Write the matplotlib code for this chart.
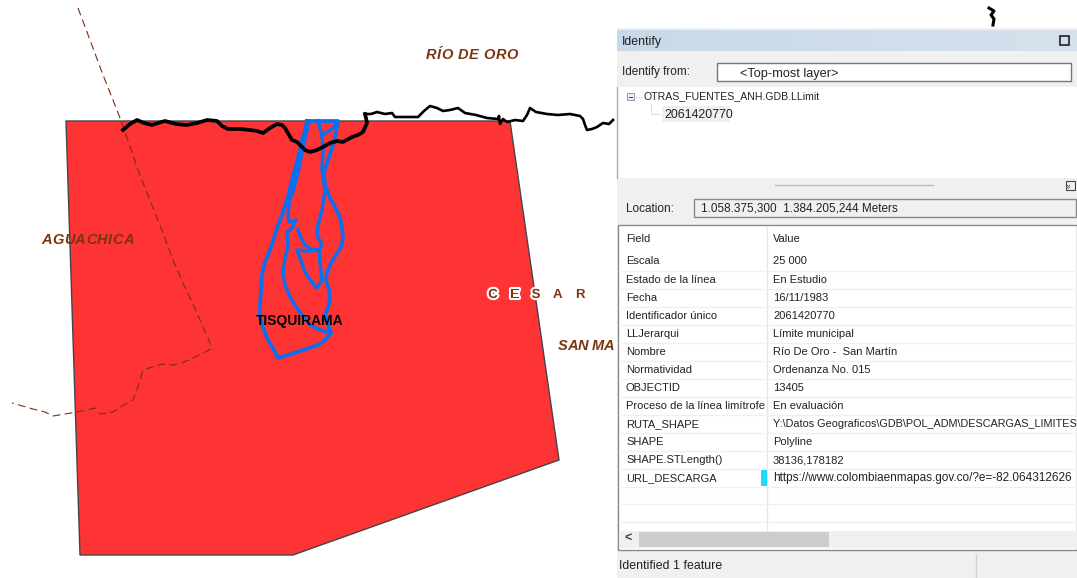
import matplotlib
matplotlib.use("Agg")
import matplotlib.pyplot as plt
import matplotlib.patheffects as pe
from matplotlib.patches import Polygon, Rectangle

# map shapes in pixels
zona_x = [66, 510, 559, 293, 80]
zona_y = [121, 121, 460, 555, 555]

limite_oeste_x = [123, 130, 137, 144, 152, 158, 165, 176, 187, 197, 207, 217, 222, 228, 240, 250, 257, 263, 270, 277, 282, 285, 289, 292, 297, 300, 305, 310, 317, 323, 330, 337, 343, 352, 358, 363, 367, 366, 365]
limite_oeste_y = [130, 124, 120, 123, 125, 123, 121, 124, 125, 123, 120, 121, 126, 129, 129, 130, 131, 133, 128, 124, 125, 128, 135, 140, 142, 145, 150, 152, 150, 147, 143, 141, 142, 137, 135, 132, 123, 118, 114]
limite_este_x = [365, 371, 377, 385, 392, 395, 405, 418, 424, 430, 437, 443, 450, 458, 465, 476, 487, 498, 499, 500, 503, 507, 515, 523, 527, 530, 536, 547, 558, 570, 580, 583, 585, 587, 592, 597, 603, 609, 613]
limite_este_y = [114, 114, 112, 114, 113, 117, 117, 117, 111, 106, 108, 111, 110, 108, 113, 115, 118, 119, 116, 124, 119, 122, 120, 121, 115, 108, 112, 114, 115, 114, 116, 119, 125, 130, 129, 127, 123, 124, 120]

lindero_x = [78, 93, 103, 113, 122, 138, 153, 163, 173, 183, 197, 210, 211, 197, 182, 173, 163, 152, 143, 138, 133, 122, 113, 100, 95, 77, 65, 53, 45, 33, 12]
lindero_y = [8, 48, 75, 100, 123, 170, 208, 233, 260, 283, 313, 343, 349, 356, 363, 365, 364, 367, 370, 387, 400, 406, 412, 414, 408, 412, 414, 416, 412, 409, 403]

azul_contorno_x = [307, 338, 336, 332, 328, 324, 325, 330, 335, 340, 342, 343, 341, 336, 331, 327, 326, 329, 330, 328, 325, 328, 331, 325, 318, 300, 285, 278, 274, 268, 263, 260, 260, 261, 262, 265, 270, 274, 277, 282, 287, 292, 296, 300, 304, 307]
azul_contorno_y = [121, 121, 133, 148, 160, 172, 185, 198, 207, 217, 228, 238, 247, 255, 263, 272, 280, 290, 298, 308, 315, 325, 333, 340, 345, 351, 356, 358, 350, 340, 328, 317, 305, 290, 275, 262, 250, 238, 228, 215, 200, 180, 165, 150, 135, 121]
azul_medio_x = [318, 322, 323, 322, 325, 322, 318, 317, 322, 319, 320, 322, 317, 311, 305, 301, 297, 308, 319]
azul_medio_y = [121, 135, 150, 170, 190, 210, 225, 235, 245, 250, 263, 280, 288, 281, 272, 261, 250, 251, 250]
azul_cruce_x = [322, 327, 333, 338]
azul_cruce_y = [135, 132, 128, 122]
azul_izq_x = [303, 296, 290, 288, 289, 296, 292, 287, 288, 285, 283, 285, 290, 296, 302, 310, 320, 331]
azul_izq_y = [135, 170, 195, 215, 222, 220, 228, 232, 247, 258, 273, 285, 297, 307, 315, 325, 330, 333]
azul_doble_x = [309, 303, 298, 292]
azul_doble_y = [121, 148, 172, 195]
azul_interno_x = [298, 301, 305, 311, 318]
azul_interno_y = [230, 238, 245, 249, 250]

# texts of the Identify window
campos = ["Escala", "Estado de la línea", "Fecha", "Identificador único", "LLJerarqui", "Nombre", "Normatividad", "OBJECTID",
          "Proceso de la línea limítrofe", "RUTA_SHAPE", "SHAPE", "SHAPE.STLength()", "URL_DESCARGA"]
valores = ["25 000", "En Estudio", "16/11/1983", "2061420770", "Límite municipal", "Río De Oro -  San Martín", "Ordenanza No. 015", "13405",
           "En evaluación", "Y:\\Datos Geograficos\\GDB\\POL_ADM\\DESCARGAS_LIMITES", "Polyline", "38136,178182",
           "https://www.colombiaenmapas.gov.co/?e=-82.064312626"]
cesar_letras = ["C", "E", "S", "A", "R"]
cesar_x = [493, 515, 536, 557, 580]

plt.rcParams['font.family'] = ['Liberation Sans', 'DejaVu Sans']

fig = plt.figure(figsize=(10.77, 5.78), dpi=100)
ax = fig.add_axes([0, 0, 1, 1])
ax.set_xlim(0, 1077)
ax.set_ylim(578, 0)
ax.axis("off")
tx = "#222222"
fs = 8.05
azul = "#0a70f0"
marron = "#7b3410"


def caja(x, y, w, h, color, borde="none", z=5, lw=1):
    ax.add_patch(Rectangle((x, y), w, h, facecolor=color, edgecolor=borde, zorder=z, lw=lw))


def etiqueta(x, y, txt, ancho, **kw):
    # letter by letter so the label spreads over the same width as the picture
    r = fig.canvas.get_renderer()
    w = []
    for c in txt:
        t = ax.text(0, 0, c if c != " " else "i", **kw)
        w.append(t.get_window_extent(r).width)
        t.remove()
    hueco = (ancho - sum(w)) / (len(txt) - 1)
    for c, wi in zip(txt, w):
        if c != " ":
            ax.text(x, y, c, ha="left", va="center", zorder=4, **kw)
        x += wi + hueco


# mapa
ax.add_patch(Polygon(list(zip(zona_x, zona_y)), closed=True, facecolor="#fe3333", edgecolor="#44444a", lw=1, zorder=1))
ax.plot(lindero_x, lindero_y, color="#7a2e0e", lw=0.8, ls=(0, (7, 4)), zorder=2)
ax.plot(azul_contorno_x, azul_contorno_y, color=azul, lw=2.7, zorder=3, solid_joinstyle="round")
ax.plot(azul_medio_x, azul_medio_y, color=azul, lw=2.5, zorder=3, solid_joinstyle="round")
ax.plot(azul_cruce_x, azul_cruce_y, color=azul, lw=2.5, zorder=3)
ax.plot(azul_izq_x, azul_izq_y, color=azul, lw=2.5, zorder=3, solid_joinstyle="round")
ax.plot(azul_doble_x, azul_doble_y, color=azul, lw=2.5, zorder=3)
ax.plot(azul_interno_x, azul_interno_y, color=azul, lw=2.5, zorder=3, solid_joinstyle="round")
ax.plot(limite_oeste_x, limite_oeste_y, color="black", lw=2.7, zorder=4, solid_joinstyle="round")
ax.plot(limite_este_x, limite_este_y, color="black", lw=1.9, zorder=4, solid_joinstyle="round")
ax.plot([989, 994, 991, 994, 993], [8, 11, 15, 19, 25], color="black", lw=2.2, zorder=4)

kw_mapa = dict(color=marron, fontsize=10.5, fontweight="bold", fontstyle="italic")
etiqueta(426, 55, "RÍO DE ORO", 92, **kw_mapa)
etiqueta(41, 240, "AGUACHICA", 93, **kw_mapa)
etiqueta(558, 346, "SAN MA", 56, **kw_mapa)
for letra, x in zip(cesar_letras, cesar_x):
    ax.text(x, 295, letra, color=marron, fontsize=9.5, fontweight="bold", ha="center", va="center", zorder=4,
            path_effects=[pe.withStroke(linewidth=3, foreground="white")] if x < 540 else None)
ax.text(299.5, 321, "TISQUIRAMA", color="black", fontsize=10, fontweight="bold", ha="center", va="center", zorder=4)

# ventana Identify
caja(617, 28, 460, 550, "#f0f0f0")
for i in range(40):
    t = i / 39
    c = (0.78 + 0.06 * t, 0.85 + 0.03 * t, 0.91 + 0.02 * t)
    caja(617 + i * 11.5, 30, 11.6, 21, c, z=6)
caja(1060, 36, 9, 9, "none", borde="#222222", z=7, lw=1.2)
ax.text(622, 41.5, "Identify", fontsize=8.9, color=tx, va="center", zorder=8)
ax.text(622, 71.5, "Identify from:", fontsize=8.5, color=tx, va="center", zorder=8)
caja(717, 63, 354, 18, "white", borde="#777777", z=6)
ax.text(740, 73.5, "<Top-most layer>", fontsize=9.2, color=tx, va="center", zorder=8)

caja(617, 87, 460, 91, "white", z=6)
ax.plot([617, 617], [87, 178], color="#aaaaaa", lw=1, zorder=7)
caja(627, 93, 7, 7, "#e8eef4", borde="#8899aa", z=7, lw=0.7)
ax.plot([629, 632], [96.5, 96.5], color="#334455", lw=0.7, zorder=8)
ax.plot([634, 642], [96.5, 96.5], color="#999999", lw=0.6, ls=":", zorder=7)
ax.plot([651, 651, 660], [104, 114, 114], color="#999999", lw=0.6, ls=":", zorder=7)
ax.text(643, 96.5, "OTRAS_FUENTES_ANH.GDB.LLimit", fontsize=7.6, color=tx, va="center", zorder=8)
caja(662, 106, 68, 16, "#f0f0f0", z=7)
ax.text(664, 114.5, "2061420770", fontsize=8.9, color=tx, va="center", zorder=8)

ax.plot([775, 933], [185, 185], color="#bbbbbb", lw=1, zorder=7)
caja(1066, 181, 9, 9, "#f0f0f0", borde="#444444", z=7, lw=0.8)
ax.text(1070.5, 185.5, "«", fontsize=6, color=tx, rotation=90, ha="center", va="center", zorder=8)

ax.text(626, 208.5, "Location:", fontsize=8.5, color=tx, va="center", zorder=8)
caja(694, 199, 382, 18, "#f0f0f0", borde="#888888", z=6)
ax.text(701, 208.5, "1.058.375,300  1.384.205,244 Meters", fontsize=8.45, color=tx, va="center", zorder=8)

# tabla de campos y valores
caja(618, 225, 459, 325, "white", borde="#8a8a8a", z=6)
ax.plot([767, 767], [226, 531], color="#e6e6e6", lw=1, zorder=7)
ax.text(626, 239, "Field", fontsize=fs, color=tx, va="center", zorder=8)
ax.text(773, 239, "Value", fontsize=fs, color=tx, va="center", zorder=8)
for i, (campo, valor) in enumerate(zip(campos, valores)):
    y = 261.5 + i * 18.05
    if valor.startswith("http"):
        fv = 8.5
    elif valor.startswith("Y:"):
        fv = 7.8
    else:
        fv = fs
    ax.text(626, y, campo, fontsize=fs, color=tx, va="center", zorder=8)
    ax.text(773, y, valor, fontsize=fv, color=tx, va="center", zorder=8)
    ax.plot([619, 1077], [y + 9, y + 9], color="#f0f0f0", lw=1, zorder=7)
for i in range(2):
    ax.plot([619, 1077], [504 + i * 18, 504 + i * 18], color="#f0f0f0", lw=1, zorder=7)
caja(761, 470, 6, 16, "#22d8f8", z=9)

caja(619, 531, 458, 17, "#f0f0f0", z=8)
caja(639, 532, 190, 15, "#cdcdcd", z=9)
ax.text(628, 539, "<", fontsize=9, fontweight="bold", color="#444444", ha="center", va="center", zorder=10)
ax.text(619, 566, "Identified 1 feature", fontsize=8.9, color=tx, va="center", zorder=8)
ax.plot([976, 976], [555, 578], color="#d0d0d0", lw=1, zorder=8)

fig.savefig("out.png", dpi=100)
